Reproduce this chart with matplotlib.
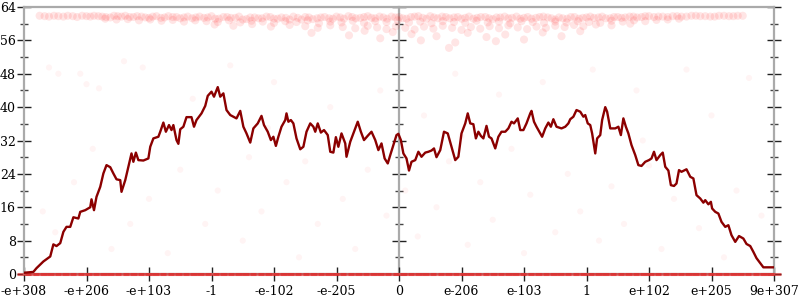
import numpy as np
import matplotlib
matplotlib.use("Agg")
import matplotlib.pyplot as plt

plt.rcParams['font.family'] = ['DejaVu Serif']

# ---- data ----
tick_labels = ["-e+308", "-e+206", "-e+103", "-1", "-e-102", "-e-205", "0",
               "e-206", "e-103", "1", "e+102", "e+205", "9e+307"]

line_x = [0.00, 0.15, 0.20, 0.31, 0.42, 0.47, 0.52, 0.58, 0.63, 0.68,
          0.74, 0.79, 0.87, 0.90, 0.98, 1.06, 1.08, 1.12, 1.16, 1.22,
          1.27, 1.32, 1.38, 1.43, 1.48, 1.54, 1.56, 1.62, 1.67, 1.72,
          1.75, 1.79, 1.83, 1.91, 1.99, 2.02, 2.07, 2.15, 2.18, 2.23,
          2.27, 2.32, 2.36, 2.39, 2.44, 2.47, 2.50, 2.55, 2.60, 2.68,
          2.72, 2.76, 2.84, 2.90, 2.94, 3.00, 3.04, 3.10, 3.14, 3.19,
          3.24, 3.30, 3.35, 3.40, 3.46, 3.51, 3.56, 3.62, 3.67, 3.74,
          3.80, 3.84, 3.90, 3.95, 3.99, 4.03, 4.07, 4.12, 4.18, 4.20,
          4.23, 4.27, 4.31, 4.36, 4.42, 4.47, 4.52, 4.58, 4.63, 4.66,
          4.70, 4.75, 4.80, 4.86, 4.90, 4.95, 4.99, 5.03, 5.08, 5.14,
          5.16, 5.22, 5.27, 5.34, 5.39, 5.44, 5.51, 5.56, 5.62, 5.67,
          5.72, 5.77, 5.82, 5.86, 5.91, 5.96, 5.99, 6.03, 6.07, 6.12,
          6.16, 6.20, 6.26, 6.31, 6.36, 6.42, 6.47, 6.52, 6.56, 6.60,
          6.66, 6.72, 6.78, 6.84, 6.90, 6.95, 7.00, 7.06, 7.10, 7.14,
          7.19, 7.23, 7.27, 7.31, 7.35, 7.40, 7.44, 7.48, 7.54, 7.59,
          7.64, 7.70, 7.75, 7.80, 7.84, 7.90, 7.94, 7.99, 8.04, 8.10,
          8.12, 8.16, 8.20, 8.26, 8.29, 8.34, 8.39, 8.43, 8.47, 8.52,
          8.60, 8.66, 8.71, 8.74, 8.79, 8.84, 8.90, 8.95, 8.98, 9.02,
          9.06, 9.09, 9.14, 9.17, 9.22, 9.25, 9.30, 9.33, 9.38, 9.46,
          9.51, 9.55, 9.59, 9.63, 9.67, 9.72, 9.78, 9.83, 9.88, 9.94,
          10.00, 10.04, 10.08, 10.12, 10.18, 10.22, 10.26, 10.31, 10.35, 10.40,
          10.44, 10.48, 10.52, 10.60, 10.66, 10.71, 10.76, 10.82, 10.87, 10.90,
          10.95, 10.99, 11.01, 11.06, 11.11, 11.16, 11.22, 11.27, 11.32, 11.38,
          11.44, 11.51, 11.56, 11.62, 11.67, 11.72, 11.78, 11.83, 11.96, 12.00]
line_y = [0.3, 0.5, 1.4, 3.0, 4.2, 7.1, 6.7, 7.4, 10.1, 11.3,
          11.3, 13.6, 13.3, 14.9, 15.3, 16.0, 17.9, 15.3, 18.5, 20.9,
          24.1, 26.1, 25.6, 24.1, 22.7, 22.5, 19.7, 22.5, 25.7, 28.9,
          26.9, 29.1, 27.3, 27.2, 27.7, 30.5, 32.5, 32.9, 34.1, 36.3,
          34.1, 35.7, 34.5, 35.7, 32.1, 31.2, 34.7, 35.3, 37.6, 37.6,
          35.3, 36.9, 38.5, 40.3, 42.7, 43.7, 42.5, 44.8, 42.5, 43.3,
          39.3, 38.1, 37.7, 37.3, 39.1, 35.3, 33.7, 31.5, 34.9, 36.1,
          37.9, 35.7, 34.1, 32.1, 32.9, 30.7, 32.9, 35.3, 36.9, 38.5,
          36.5, 36.9, 36.1, 32.5, 29.9, 30.5, 34.1, 36.1, 35.3, 34.1,
          36.1, 33.9, 34.5, 33.3, 29.3, 29.1, 32.8, 30.5, 33.7, 31.3,
          28.1, 31.7, 33.7, 36.5, 34.1, 32.1, 33.3, 34.1, 32.1, 29.7,
          31.3, 27.7, 26.5, 28.5, 30.9, 33.3, 33.6, 32.1, 28.9, 27.7,
          24.8, 26.9, 27.3, 29.3, 28.1, 29.1, 29.3, 29.6, 30.1, 28.0,
          29.7, 34.1, 33.7, 30.5, 27.3, 28.1, 33.7, 36.1, 38.5, 36.1,
          35.9, 32.5, 34.1, 33.1, 32.5, 35.5, 32.9, 32.5, 30.1, 32.9,
          34.1, 34.1, 34.9, 36.5, 36.1, 37.3, 34.5, 34.5, 36.1, 38.5,
          39.1, 36.5, 35.3, 33.7, 32.9, 34.9, 36.3, 35.3, 37.1, 35.3,
          34.9, 35.3, 36.1, 37.1, 37.7, 39.3, 38.9, 37.7, 38.1, 36.1,
          35.7, 33.7, 28.9, 32.5, 33.3, 36.9, 40.0, 38.9, 34.9, 34.9,
          35.3, 33.3, 37.3, 35.3, 33.7, 30.9, 28.5, 26.1, 25.9, 26.9,
          27.3, 27.7, 29.3, 27.3, 28.5, 29.1, 25.7, 24.8, 21.3, 21.1,
          21.7, 24.9, 24.5, 25.1, 23.3, 22.9, 18.9, 18.1, 17.1, 17.7,
          16.7, 17.3, 15.7, 14.9, 14.5, 12.5, 11.3, 11.7, 9.3, 7.7,
          9.1, 8.5, 7.2, 6.7, 5.3, 3.8, 2.6, 1.6, 1.6, 1.6]

band_x = [0.25, 0.40, 0.55, 0.70, 0.85, 1.00, 1.12, 1.25, 1.38, 1.50,
          1.62, 1.75, 1.88, 2.00, 2.12, 2.25, 2.38, 2.50, 2.62, 2.75,
          2.88, 3.00, 3.12, 3.25, 3.38, 3.50, 3.62, 3.75, 3.88, 4.00,
          4.12, 4.25, 4.38, 4.50, 4.62, 4.75, 4.88, 5.00, 5.12, 5.25,
          5.38, 5.50, 5.62, 5.75, 5.88, 6.00, 6.12, 6.25, 6.38, 6.50,
          6.62, 6.75, 6.88, 7.00, 7.12, 7.25, 7.38, 7.50, 7.62, 7.75,
          7.88, 8.00, 8.12, 8.25, 8.38, 8.50, 8.62, 8.75, 8.88, 9.00,
          9.12, 9.25, 9.38, 9.50, 9.62, 9.75, 9.88, 10.00, 10.15, 10.30,
          10.45, 10.60, 10.75, 10.90, 11.05, 11.20, 11.35, 11.50,
          0.33, 0.48, 0.63, 0.78, 0.93, 1.06, 1.19, 1.31, 1.44, 1.56,
          1.69, 1.81, 1.94, 2.06, 2.19, 2.31, 2.44, 2.56, 2.69, 2.81,
          2.94, 3.06, 3.19, 3.31, 3.44, 3.56, 3.69, 3.81, 3.94, 4.06,
          4.19, 4.31, 4.44, 4.56, 4.69, 4.81, 4.94, 5.06, 5.19, 5.31,
          5.44, 5.56, 5.69, 5.81, 5.94, 6.06, 6.19, 6.31, 6.44, 6.56,
          6.69, 6.81, 6.94, 7.06, 7.19, 7.31, 7.44, 7.56, 7.69, 7.81,
          7.94, 8.06, 8.19, 8.31, 8.44, 8.56, 8.69, 8.81, 8.94, 9.06,
          9.19, 9.31, 9.44, 9.56, 9.69, 9.81, 9.94, 10.08, 10.22, 10.38,
          10.52, 10.68, 10.82, 10.98, 11.12, 11.28, 11.42,
          1.30, 1.48, 1.66, 1.84, 2.02, 2.20, 2.38, 2.56, 2.74, 2.92,
          3.10, 3.28, 3.46, 3.64, 3.82, 4.00, 4.18, 4.36, 4.54, 4.72,
          4.90, 5.08, 5.26, 5.44, 5.62, 5.80, 5.98, 6.16, 6.34, 6.52,
          6.70, 6.88, 7.06, 7.24, 7.42, 7.60, 7.78, 7.96, 8.14, 8.32,
          8.50, 8.68, 8.86, 9.04, 9.22, 9.40, 9.58, 9.76, 9.94, 10.12,
          10.30, 10.48,
          3.05, 3.35, 3.65, 3.95, 4.25, 4.50, 4.70, 4.90, 5.10, 5.30,
          5.50, 5.65, 5.80, 5.95, 6.10, 6.25, 6.40, 6.55, 6.70, 6.85,
          7.00, 7.15, 7.30, 7.45, 7.60, 7.75, 7.90, 8.05, 8.20, 8.35,
          8.50, 8.65, 8.80, 8.95, 9.15, 9.40, 9.70,
          4.6, 5.2, 5.7, 5.9, 6.2, 6.35, 6.6, 6.9, 7.1, 7.4,
          7.7, 8.0, 8.3, 8.6, 8.9, 5.45, 6.8, 7.55]
band_y = [61.9, 61.7, 61.8, 61.9, 61.6, 61.8, 61.9, 61.7, 61.5, 61.8,
          61.9, 61.6, 61.7, 61.4, 61.8, 61.5, 61.6, 61.3, 61.7, 61.5,
          61.4, 61.8, 61.2, 61.6, 61.4, 61.0, 61.5, 61.3, 61.7, 61.2,
          61.5, 61.0, 61.4, 61.6, 61.1, 61.5, 61.3, 61.7, 61.2, 61.6,
          61.4, 61.8, 61.3, 61.5, 61.7, 61.6, 61.2, 61.7, 61.4, 61.8,
          61.3, 61.6, 61.5, 61.2, 61.7, 61.4, 61.6, 61.1, 61.5, 61.3,
          61.7, 61.4, 61.2, 61.6, 61.5, 61.0, 61.3, 61.6, 61.2, 61.5,
          61.4, 61.7, 61.3, 61.6, 61.5, 61.7, 61.6, 61.8, 61.7, 61.6,
          61.8, 61.7, 61.9, 61.8, 61.7, 61.9, 61.8, 61.9,
          61.8, 61.9, 61.7, 61.8, 61.9, 61.7, 61.8, 61.6, 61.9, 61.7,
          61.6, 61.8, 61.5, 61.7, 61.4, 61.8, 61.6, 61.5, 61.3, 61.7,
          61.5, 61.2, 61.6, 61.4, 61.7, 61.1, 61.5, 61.3, 61.6, 61.2,
          61.4, 61.7, 61.0, 61.5, 61.3, 61.6, 61.2, 61.5, 61.8, 61.3,
          61.6, 61.4, 61.7, 61.2, 61.5, 61.3, 61.6, 61.8, 61.2, 61.5,
          61.7, 61.3, 61.6, 61.4, 61.2, 61.6, 61.3, 61.5, 61.7, 61.4,
          61.2, 61.6, 61.4, 61.7, 61.3, 61.5, 61.2, 61.6, 61.4, 61.7,
          61.5, 61.3, 61.6, 61.4, 61.7, 61.5, 61.8, 61.6, 61.7, 61.8,
          61.7, 61.9, 61.8, 61.7, 61.9, 61.8, 61.9,
          61.2, 61.0, 61.1, 60.8, 61.0, 60.7, 60.9, 60.5, 60.8, 60.6,
          60.4, 60.8, 60.3, 60.7, 60.5, 60.2, 60.6, 60.4, 60.8, 60.1,
          60.5, 60.3, 60.7, 60.2, 60.6, 60.4, 60.8, 60.3, 60.5, 60.1,
          60.6, 60.4, 60.2, 60.7, 60.3, 60.5, 60.1, 60.6, 60.4, 60.2,
          60.5, 60.3, 60.6, 60.4, 60.2, 60.7, 60.5, 60.8, 60.6, 60.9,
          61.0, 61.2,
          59.8, 59.5, 59.9, 59.3, 59.7, 59.4, 59.0, 59.6, 59.2, 58.9,
          59.5, 59.1, 58.7, 59.4, 59.0, 58.6, 59.3, 58.8, 59.5, 59.0,
          58.5, 59.2, 58.8, 59.4, 58.9, 59.6, 59.1, 58.7, 59.3, 59.0,
          59.5, 59.2, 59.7, 59.4, 59.8, 59.6, 60.0,
          57.8, 57.2, 56.5, 58.0, 57.5, 56.0, 57.0, 55.5, 57.8, 56.8,
          57.4, 56.2, 57.9, 57.0, 58.2, 58.3, 54.2, 55.8]

sparse_x = [0.4, 0.55, 0.9, 1.0, 1.6, 1.2, 1.9, 0.3, 0.5, 0.8,
            1.1, 1.4, 1.7, 2.0, 2.3, 2.5, 2.7, 2.9, 3.1, 3.3,
            3.5, 3.6, 3.8, 4.0, 4.2, 4.4, 4.5, 4.7, 4.9, 5.1,
            5.3, 5.5, 5.7, 5.8, 6.1, 6.3, 6.4, 6.6, 6.8, 6.9,
            7.1, 7.3, 7.5, 7.6, 7.8, 8.0, 8.1, 8.3, 8.5, 8.7,
            8.9, 9.1, 9.2, 9.4, 9.6, 9.8, 10.0, 10.2, 10.4, 10.6,
            10.8, 11.0, 11.2, 11.4, 11.6, 11.8, 3.9, 5.0, 7.0, 9.9]
sparse_y = [49.5, 48.0, 48.0, 45.5, 51.0, 44.5, 49.5, 15.0, 10.0, 22.0,
            30.0, 6.0, 12.0, 18.0, 5.0, 25.0, 42.0, 12.0, 20.0, 50.0,
            8.0, 28.0, 15.0, 46.0, 22.0, 4.0, 27.0, 12.0, 40.0, 18.0,
            6.0, 25.0, 44.0, 14.0, 20.0, 9.0, 38.0, 16.0, 27.0, 48.0,
            7.0, 22.0, 13.0, 43.0, 30.0, 5.0, 19.0, 46.0, 10.0, 24.0,
            15.0, 49.0, 8.0, 21.0, 12.0, 44.0, 26.0, 6.0, 18.0, 49.0,
            11.0, 38.0, 4.0, 20.0, 47.0, 14.0, 35.0, 31.0, 33.0, 32.0]

bottom_x = [0.00, 0.12, 0.25, 0.36, 0.48, 0.61, 0.72, 0.85, 0.97, 1.08,
            1.21, 1.33, 1.44, 1.57, 1.69, 1.80, 1.93, 2.05, 2.16, 2.29,
            2.41, 2.52, 2.65, 2.77, 2.88, 3.01, 3.13, 3.24, 3.37, 3.49,
            3.60, 3.73, 3.85, 3.96, 4.09, 4.21, 4.32, 4.45, 4.57, 4.68,
            4.81, 4.93, 5.04, 5.17, 5.29, 5.40, 5.53, 5.65, 5.76, 5.89,
            6.01, 6.12, 6.25, 6.37, 6.48, 6.61, 6.73, 6.84, 6.97, 7.09,
            7.20, 7.33, 7.45, 7.56, 7.69, 7.81, 7.92, 8.05, 8.17, 8.28,
            8.41, 8.53, 8.64, 8.77, 8.89, 9.00, 9.13, 9.25, 9.36, 9.49,
            9.61, 9.72, 9.85, 9.97, 10.08, 10.21, 10.33, 10.44, 10.57, 10.69,
            10.80, 10.93, 11.05, 11.16, 11.29, 11.41, 11.52, 11.65, 11.77, 11.88, 12.00]
bottom_y = [0.0] * len(bottom_x)

# ---- figure ----
fig = plt.figure(figsize=(8, 3), dpi=100)
ax = fig.add_axes([24 / 800, 26 / 300, 750 / 800, 267 / 300])
ax.set_xlim(0, 12)
ax.set_ylim(0, 64)

ax.scatter(sparse_x, sparse_y, s=20, color='red', alpha=0.045, edgecolors='none', zorder=2)
ax.scatter(band_x, band_y, s=34, color='red', alpha=0.1, edgecolors='none', zorder=2)
ax.plot(bottom_x, bottom_y, linestyle='none', marker='_', markersize=9.5,
        markeredgewidth=2.2, color='#e02020', alpha=0.6, zorder=3, clip_on=False)
ax.plot(line_x, line_y, color='#8b0000', lw=1.7, zorder=5)

gray = '#aaaaaa'
for side in ['left', 'right', 'top', 'bottom']:
    ax.spines[side].set_color(gray)
    ax.spines[side].set_linewidth(1.6)

yt = list(range(0, 65, 8))
ymt = list(range(4, 64, 8))
ax.set_yticks(yt)
ax.set_yticks(ymt, minor=True)
ax.set_xticks(range(13))
ax.set_xticklabels(tick_labels)
ax.tick_params(axis='y', which='major', direction='inout', length=10, width=1,
               color='#222222', right=True, labelsize=9, pad=1)
ax.tick_params(axis='y', which='minor', direction='inout', length=6, width=1,
               color='#444444', right=True)
ax.tick_params(axis='x', which='major', direction='inout', length=10, width=1,
               color='#222222', labelsize=9, pad=3)

sec = ax.secondary_yaxis(0.5)
sec.set_yticks(yt)
sec.set_yticks(ymt, minor=True)
sec.set_yticklabels([])
sec.tick_params(which='major', direction='inout', length=10, width=1,
                color='#222222', labelleft=False, labelright=False)
sec.tick_params(which='minor', direction='inout', length=6, width=1,
                color='#444444', labelleft=False, labelright=False)
for s in sec.spines.values():
    s.set_color(gray)
    s.set_linewidth(1.6)

fig.savefig('out.png', dpi=100)
